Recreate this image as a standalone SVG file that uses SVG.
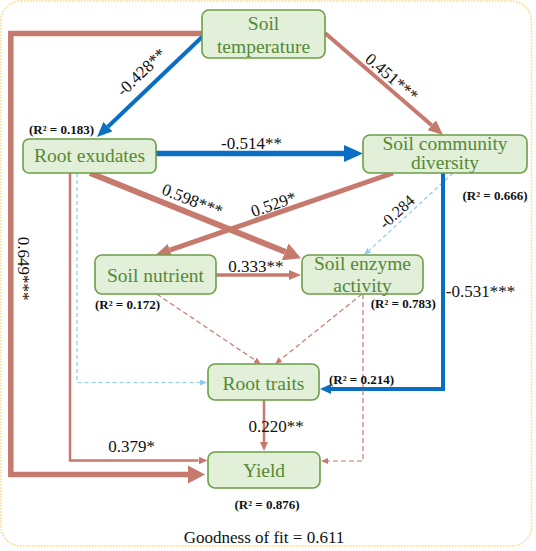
<svg xmlns="http://www.w3.org/2000/svg" width="536" height="551" viewBox="0 0 536 551">
<style>
.node rect{fill:#e2efd9;stroke:#6a9f46;stroke-width:1.6}
text{font-family:'Liberation Serif',LiberationSerif,Tinos,'Times New Roman',Times,'DejaVu Serif',serif}
.nt{font-size:19.5px;fill:#548a36;text-anchor:middle}
.r2{font-size:13px;font-weight:bold;fill:#111;text-anchor:middle}
.lab{font-size:17px;fill:#111;text-anchor:middle}
.s{fill:none;stroke:#c67a6e}
.b{fill:none;stroke:#0a6fc4}
.lb{fill:none;stroke:#8ecbee;stroke-width:1.2;stroke-dasharray:4,3}
.sd{fill:none;stroke:#c67a6e;stroke-width:1.2;stroke-dasharray:5,3}
</style>
<defs>
<marker id="mS17" markerUnits="userSpaceOnUse" markerWidth="17" markerHeight="18" refX="0" refY="9" orient="auto"><path d="M0,0 L17,9 L0,18 z" fill="#c67a6e"/></marker>
<marker id="mS15" markerUnits="userSpaceOnUse" markerWidth="15" markerHeight="13" refX="0" refY="6.5" orient="auto"><path d="M0,0 L15,6.5 L0,13 z" fill="#c67a6e"/></marker>
<marker id="mS12" markerUnits="userSpaceOnUse" markerWidth="12" markerHeight="10" refX="0" refY="5" orient="auto"><path d="M0,0 L12,5 L0,10 z" fill="#c67a6e"/></marker>
<marker id="mS9" markerUnits="userSpaceOnUse" markerWidth="9" markerHeight="8" refX="0" refY="4" orient="auto"><path d="M0,0 L9,4 L0,8 z" fill="#c67a6e"/></marker>
<marker id="mSd" markerUnits="userSpaceOnUse" markerWidth="7" markerHeight="6" refX="0" refY="3" orient="auto"><path d="M0,0 L7,3 L0,6 z" fill="#c67a6e"/></marker>
<marker id="mB19" markerUnits="userSpaceOnUse" markerWidth="19" markerHeight="17" refX="0" refY="8.5" orient="auto"><path d="M0,0 L19,8.5 L0,17 z" fill="#0a6fc4"/></marker>
<marker id="mB15" markerUnits="userSpaceOnUse" markerWidth="15" markerHeight="13" refX="0" refY="6.5" orient="auto"><path d="M0,0 L15,6.5 L0,13 z" fill="#0a6fc4"/></marker>
<marker id="mB11" markerUnits="userSpaceOnUse" markerWidth="11" markerHeight="10" refX="0" refY="5" orient="auto"><path d="M0,0 L11,5 L0,10 z" fill="#0a6fc4"/></marker>
<marker id="mLB" markerUnits="userSpaceOnUse" markerWidth="7" markerHeight="6" refX="0" refY="3" orient="auto"><path d="M0,0 L7,3 L0,6 z" fill="#8ecbee"/></marker>
</defs>
<rect x="1" y="1" width="530.5" height="545" rx="20" fill="#fff" stroke="#fdd77c" stroke-width="1.5" stroke-dasharray="1.5,1.5"/>
<g id="connectors">
<path class="s" d="M202,33.5 H10.8 V474.5 H188" stroke-width="5.5" marker-end="url(#mS17)"/>
<path class="b" d="M202,37 L107.9,126.7" stroke-width="4" marker-end="url(#mB15)"/>
<path class="s" d="M325,33 L431.7,125.2" stroke-width="4" marker-end="url(#mS15)"/>
<path class="b" d="M156,153.5 H344" stroke-width="5.5" marker-end="url(#mB19)"/>
<path class="s" d="M90,173 L285.2,251.8" stroke-width="6" marker-end="url(#mS17)"/>
<path class="s" d="M393,173 L169.8,250.1" stroke-width="5" marker-end="url(#mS15)"/>
<path class="lb" d="M453,173 L369.2,250.3" marker-end="url(#mLB)"/>
<path class="b" d="M443,173 V389 H331" stroke-width="4" marker-end="url(#mB11)"/>
<path class="s" d="M216,275 H289" stroke-width="3.5" marker-end="url(#mS12)"/>
<path class="sd" d="M156.7,294 L255.1,360.2" marker-end="url(#mSd)"/>
<path class="sd" d="M362,294 L280.5,359.6" marker-end="url(#mSd)"/>
<path class="sd" d="M363,294 V461 H328" marker-end="url(#mSd)"/>
<path class="lb" d="M77,173 V382.5 H200" marker-end="url(#mLB)"/>
<path class="s" d="M70,173 V460.5 H198.5" stroke-width="2.5" marker-end="url(#mS9)"/>
<path class="s" d="M264,400 V442" stroke-width="2.5" marker-end="url(#mS9)"/>
<text class="lab" transform="translate(141,72) rotate(-43.6)" dy="0.35em">-0.428**</text>
<text class="lab" transform="translate(392,77) rotate(40.8)" dy="0.35em">0.451***</text>
<text class="lab" x="251.5" y="148.5">-0.514**</text>
<text class="lab" transform="translate(192.5,200) rotate(21.5)" dy="0.35em">0.598***</text>
<text class="lab" transform="translate(273.5,204) rotate(-19)" dy="0.35em">0.529*</text>
<text class="lab" transform="translate(396.7,211.7) rotate(-42.5)" dy="0.35em" style="font-size:16px">-0.284</text>
<text class="lab" transform="translate(24,268.5) rotate(90)" dy="0.35em">0.649***</text>
<text class="lab" x="255.8" y="272">0.333**</text>
<text class="lab" x="480.5" y="297">-0.531***</text>
<text class="lab" x="131.7" y="452">0.379*</text>
<text class="lab" x="276" y="432">0.220**</text>
</g>
<g id="soil-temperature" class="node">
<rect x="202" y="10" width="123" height="48" rx="7"/>
<text class="nt" x="263.5" y="30">Soil</text>
<text class="nt" x="263.5" y="52.5">temperature</text>
</g>
<g id="root-exudates" class="node">
<rect x="23" y="139" width="133" height="34" rx="6"/>
<text class="nt" x="89.5" y="162">Root exudates</text>
<text class="r2" x="61.5" y="134">(R² = 0.183)</text>
</g>
<g id="soil-community-diversity" class="node">
<rect x="363" y="135" width="164" height="38" rx="7"/>
<text class="nt" x="445" y="149.5">Soil community</text>
<text class="nt" x="445" y="168.5">diversity</text>
<text class="r2" x="495" y="200">(R² = 0.666)</text>
</g>
<g id="soil-nutrient" class="node">
<rect x="95" y="255" width="121" height="39" rx="7"/>
<text class="nt" x="155.5" y="282">Soil nutrient</text>
<text class="r2" x="127.5" y="308.5">(R² = 0.172)</text>
</g>
<g id="soil-enzyme-activity" class="node">
<rect x="302" y="255" width="121" height="39" rx="7"/>
<text class="nt" x="362.5" y="270">Soil enzyme</text>
<text class="nt" x="362.5" y="291.5">activity</text>
<text class="r2" x="403.3" y="308">(R² = 0.783)</text>
</g>
<g id="root-traits" class="node">
<rect x="208" y="364" width="111" height="36" rx="7"/>
<text class="nt" x="263.5" y="390">Root traits</text>
<text class="r2" x="361.5" y="384">(R² = 0.214)</text>
</g>
<g id="yield" class="node">
<rect x="208" y="452" width="112" height="36" rx="7"/>
<text class="nt" x="264" y="476.5">Yield</text>
<text class="r2" x="267" y="509">(R² = 0.876)</text>
</g>
<text class="lab" x="264" y="543">Goodness of fit = 0.611</text>
</svg>
